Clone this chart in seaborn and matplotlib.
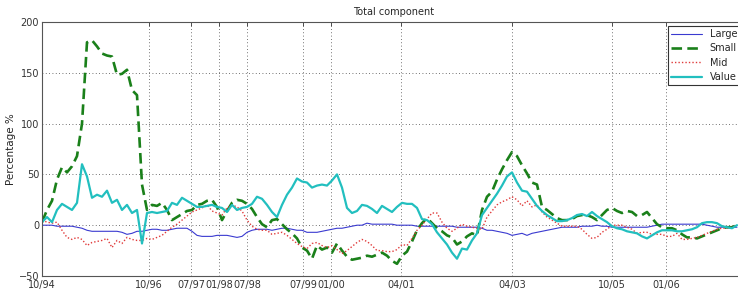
import matplotlib
matplotlib.use("Agg")
import matplotlib.pyplot as plt
import seaborn as sns
import pandas as pd

# observation index (one step ~ one period on the plot)
period = list(range(140))

small = [3, 15, 24, 45, 57, 52, 58, 68, 100, 180,
         182, 176, 169, 167, 166, 148, 149, 153, 133, 128,
         40, 15, 20, 19, 22, 15, 5, 8, 11, 14,
         15, 20, 21, 24, 25, 18, 5, 14, 22, 25,
         24, 21, 16, 8, 1, -2, 5, 6, 1, -4,
         -8, -13, -22, -25, -33, -20, -24, -22, -27, -18,
         -25, -31, -34, -33, -32, -30, -31, -29, -27, -30,
         -35, -38, -30, -26, -16, -5, 2, 7, 2, -3,
         -6, -10, -12, -19, -16, -11, -8, -10, 15, 28,
         33, 45, 55, 64, 72, 68, 59, 51, 42, 40,
         18, 15, 11, 7, 5, 5, 6, 9, 10, 10,
         8, 5, 10, 15, 17, 14, 12, 14, 13, 9,
         10, 13, 7, 1, -2, -3, -3, -5, -9, -12,
         -12, -13, -11, -9, -7, -5, -3, -2, -2, 0]

value = [3, 8, 3, 15, 21, 18, 15, 22, 60, 48,
         27, 30, 28, 34, 22, 25, 15, 20, 12, 15,
         -18, 12, 13, 12, 13, 14, 22, 20, 27, 24,
         21, 18, 18, 19, 20, 18, 17, 13, 20, 15,
         17, 18, 21, 28, 26, 20, 13, 8, 20, 30,
         37, 46, 43, 42, 37, 39, 40, 39, 44, 50,
         37, 17, 12, 14, 20, 19, 16, 12, 19, 16,
         13, 18, 22, 21, 21, 17, 6, 5, 1, -7,
         -13, -19, -27, -33, -23, -24, -15, -8, 10, 17,
         24, 31, 39, 48, 52, 42, 34, 33, 26, 19,
         14, 10, 7, 4, 4, 5, 7, 10, 11, 9,
         13, 9, 6, 3, -1, -3, -4, -6, -7, -8,
         -11, -13, -10, -7, -5, -5, -5, -6, -6, -5,
         -4, -2, 2, 3, 3, 2, -1, -2, -3, 0]

mid = [5, 3, 2, 3, -5, -12, -14, -12, -14, -20,
       -17, -16, -15, -13, -22, -15, -18, -12, -14, -15,
       -15, -13, -14, -12, -10, -6, -2, 1, 5, 9,
       13, 15, 17, 20, 14, 12, 10, 17, 20, 18,
       14, 5, -1, -4, -5, -5, -9, -8, -7, -10,
       -14, -18, -21, -23, -18, -17, -20, -22, -20, -24,
       -28, -25, -21, -17, -14, -16, -20, -25, -25, -26,
       -26, -24, -19, -20, -13, -5, 0, 6, 12, 12,
       3, -3, -6, -3, 1, -1, -2, -3, -4, 8,
       14, 20, 23, 25, 28, 25, 19, 24, 18, 20,
       13, 8, 5, 2, -1, -1, -1, -1, -4, -9,
       -13, -12, -7, -4, 0, 0, 0, -2, -4, -8,
       -7, -7, -9, -9, -9, -11, -11, -8, -14, -14,
       -13, -12, -10, -8, -6, -4, -3, -3, -2, 0]

large = [0, 0, 0, -1, -1, -1, -1, -2, -3, -5,
         -6, -6, -6, -6, -6, -6, -7, -9, -8, -6,
         -6, -5, -4, -4, -5, -5, -4, -3, -3, -3,
         -6, -10, -11, -11, -11, -10, -10, -10, -11, -12,
         -11, -7, -5, -4, -4, -4, -5, -4, -3, -3,
         -4, -5, -5, -7, -7, -7, -6, -5, -4, -3,
         -3, -2, -1, 0, 0, 2, 1, 1, 1, 1,
         1, 0, 0, 0, 0, -1, -1, -1, -1, -1,
         -1, -1, -1, -2, -2, -2, -2, -2, -3, -5,
         -5, -6, -7, -8, -10, -9, -8, -10, -8, -7,
         -6, -5, -4, -3, -2, -2, -2, -2, -1, -1,
         -1, 0, -1, -1, -2, -2, -2, -2, -2, -2,
         -2, -2, -1, 0, 1, 1, 1, 1, 1, 1,
         1, 1, 1, 0, -1, -2, -2, -2, -2, -2]

tick_pos = [0, 21.4, 29.8, 35.4, 41, 52.2, 57.8, 71.8, 94, 114, 124.8]
tick_labels = ["10/94", "10/96", "07/97", "01/98", "07/98", "07/99",
               "01/00", "04/01", "04/03", "10/05", "01/06"]

df = pd.DataFrame({"period": period, "Large": large, "Small": small,
                   "Mid": mid, "Value": value})

sns.set_style("white")
plt.rcParams["font.family"] = ["DejaVu Sans"]

fig = plt.figure(figsize=(7.38, 2.95), dpi=100)
ax = fig.add_axes([42 / 738, 19 / 295, 703 / 738, 254 / 295])

styles = {
    "Large": dict(color="#3a3ad0", linewidth=0.8, linestyle="-"),
    "Small": dict(color="#1a801a", linewidth=1.9, linestyle=(0, (4, 2))),
    "Mid": dict(color="#e03a3a", linewidth=1.0, linestyle=(0, (1, 1.5))),
    "Value": dict(color="#22bfbf", linewidth=1.6, linestyle="-"),
}
for name in ["Large", "Small", "Mid", "Value"]:
    sns.lineplot(data=df, x="period", y=name, ax=ax, label=name, **styles[name])

ax.set_xlim(0, 140.6)
ax.set_ylim(-50, 200)
ax.set_xticks(tick_pos)
ax.set_xticklabels(tick_labels)
ax.set_yticks([-50, 0, 50, 100, 150, 200])
ax.set_xlabel("")
ax.set_ylabel("Percentage %", fontsize=7.5, labelpad=2)
ax.set_title("Total component", fontsize=7, pad=5)
ax.tick_params(direction="in", top=True, right=True, length=3, width=0.6,
               labelsize=7, pad=2, colors="#333333")
ax.tick_params(axis="x", pad=3)
ax.grid(True, color="#444444", linestyle=(0, (1, 3)), linewidth=0.6)
for s in ax.spines.values():
    s.set_color("#555555")
    s.set_linewidth(0.8)

leg = ax.legend(loc="upper right", fontsize=7, frameon=True, fancybox=False,
                borderpad=0.3, labelspacing=0.45, handlelength=3.2,
                borderaxespad=0, bbox_to_anchor=(0.993, 0.984))
leg.get_frame().set_edgecolor("#333333")
leg.get_frame().set_linewidth(0.8)
leg.get_frame().set_alpha(1)

fig.savefig("out.png", dpi=100)
